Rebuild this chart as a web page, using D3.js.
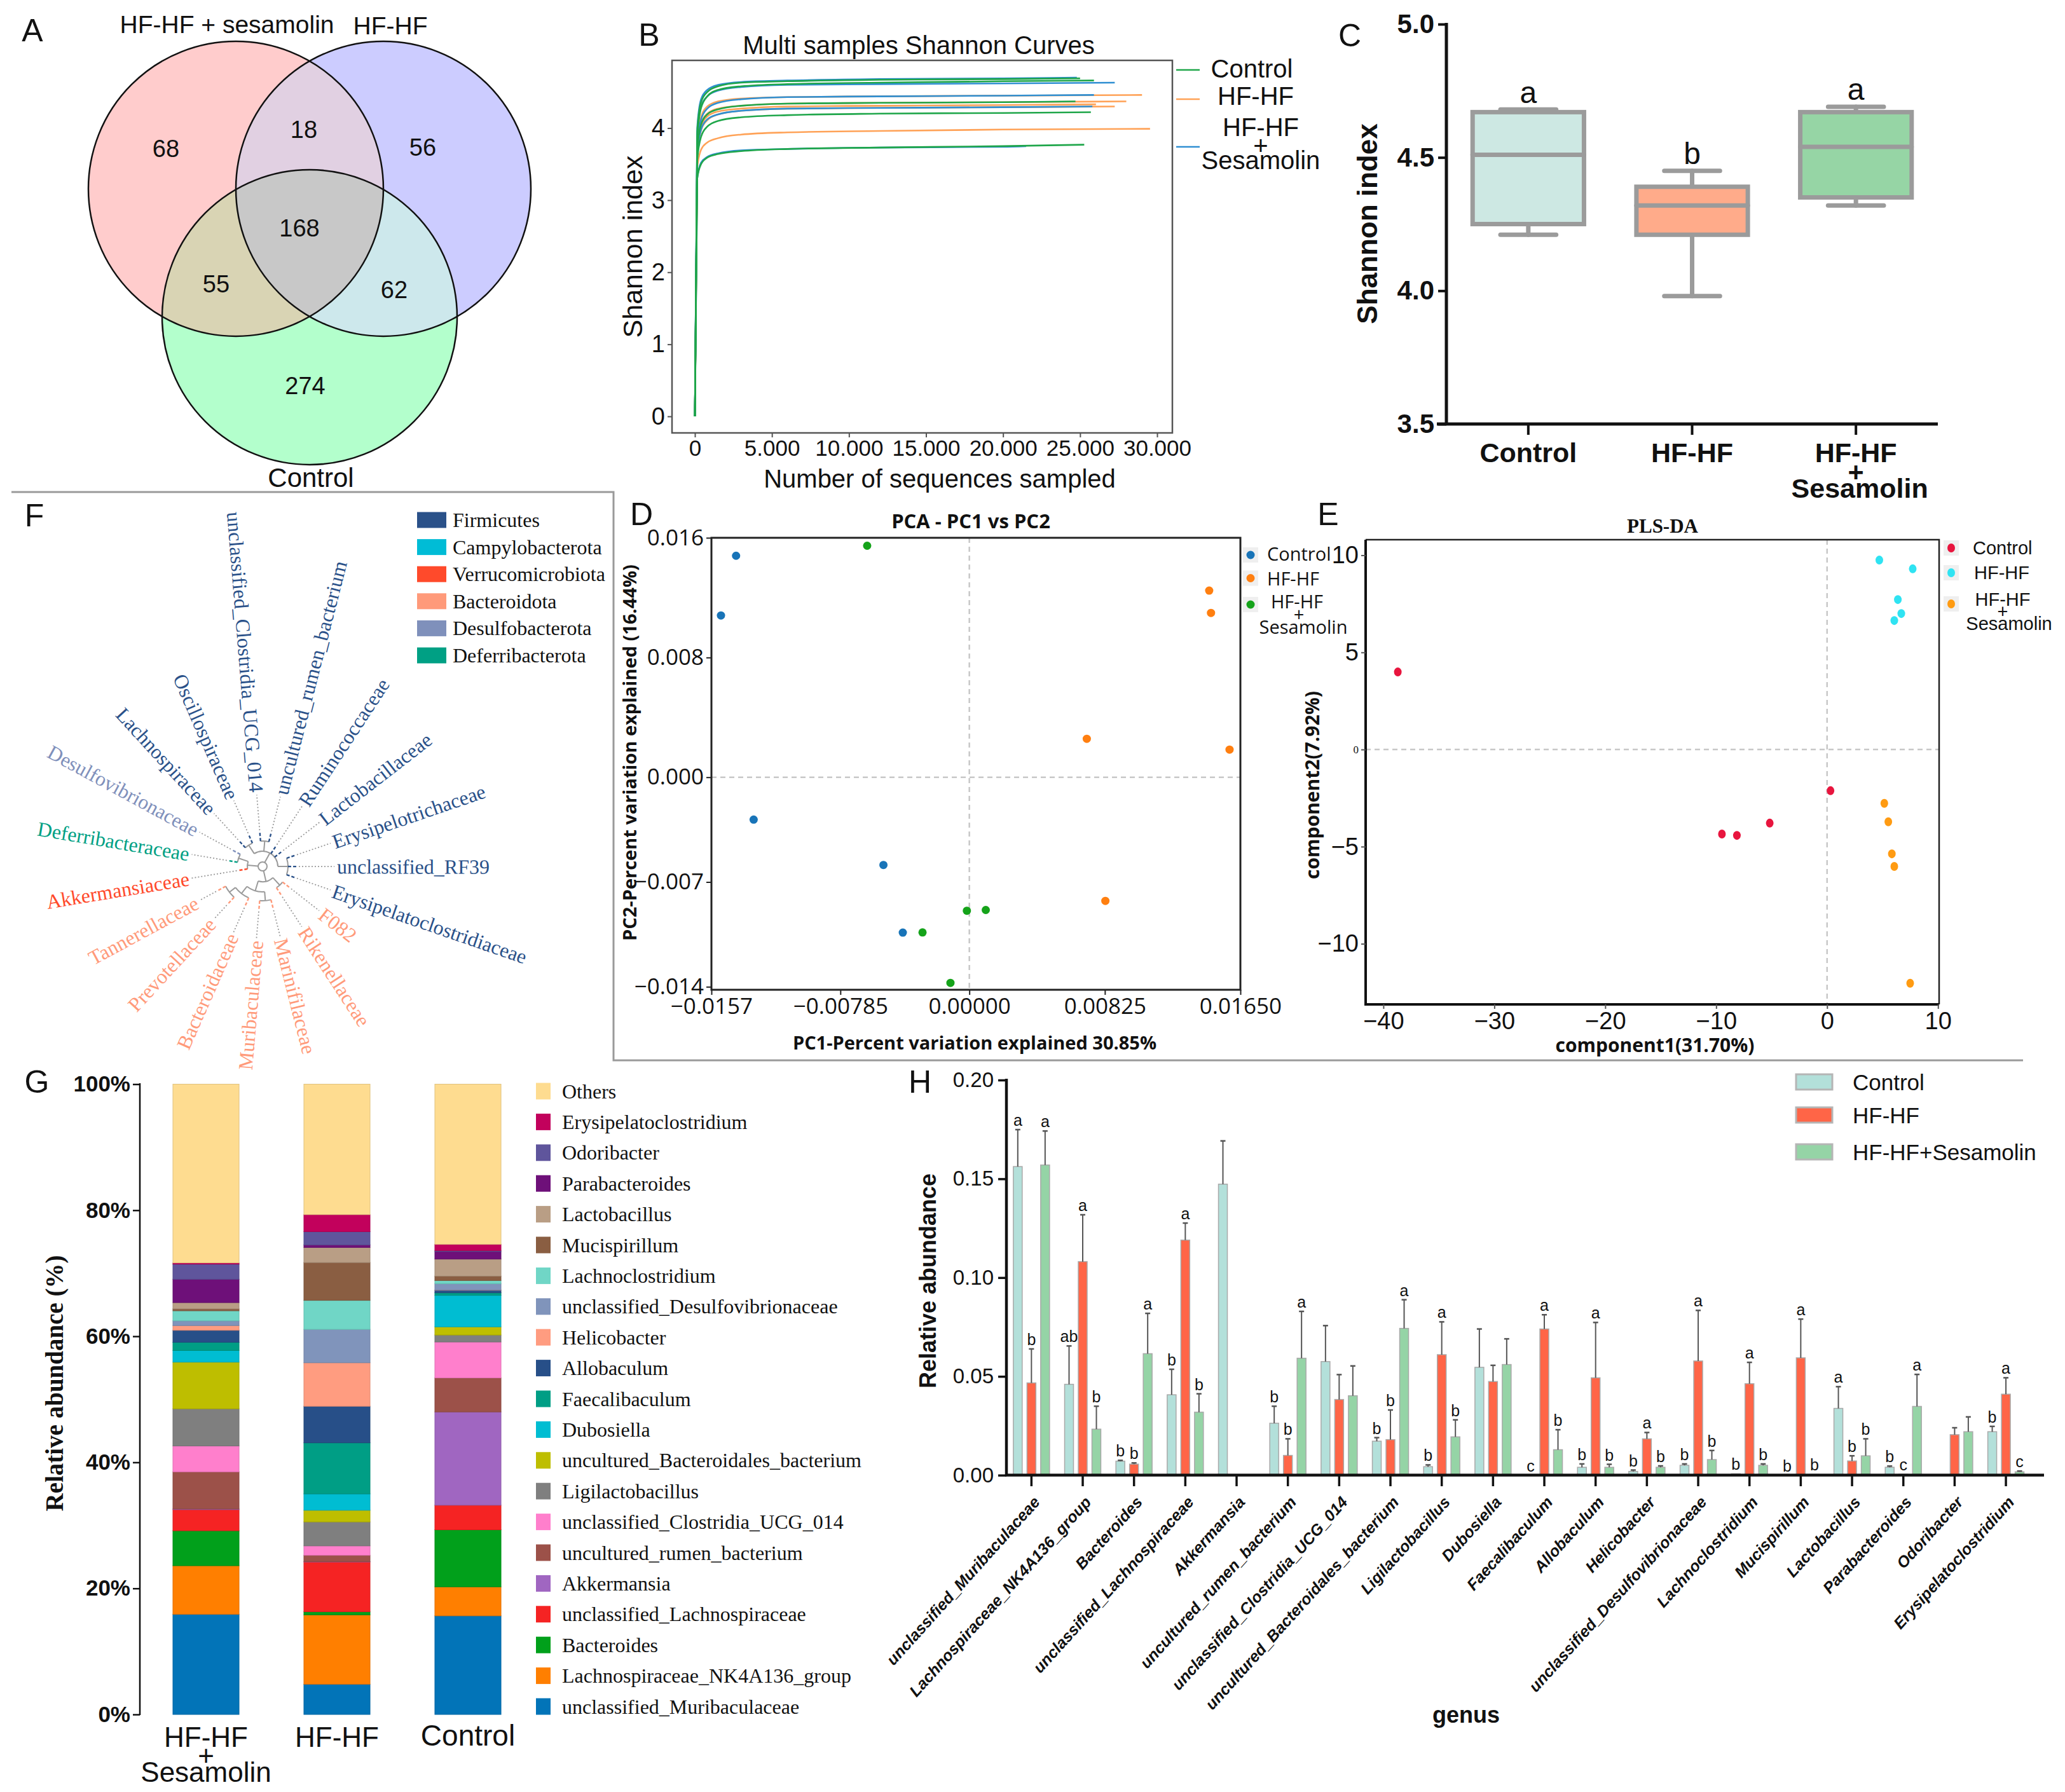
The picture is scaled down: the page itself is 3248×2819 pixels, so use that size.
<!DOCTYPE html>
<html>
<head>
<meta charset="utf-8">
<script src="https://cdn.jsdelivr.net/npm/d3@7/dist/d3.min.js"></script>
<style>
  body { margin: 0; background: #fff; }
</style>
</head>
<body>
<script>
// ---------------- data ----------------
// A - Venn
const vennNames = ["HF-HF + sesamolin", "HF-HF", "Control"];
// only A, only B, only C, A&B, A&C, B&C, all three
const vennCounts = [68, 56, 274, 18, 55, 62, 168];

// B - Shannon rarefaction curves
const shannonGroups = ["Control", "HF-HF", "HF-HF + Sesamolin"];
const shannonColors = ["#1fa64a", "#ffa257", "#2f8fd2"];
const seqDepths = [0, 150, 400, 800, 1500, 3000, 6000, 12000, 20000];
const shannonXTicks = [0, 5000, 10000, 15000, 20000, 25000, 30000];
const shannonYTicks = [0, 1, 2, 3, 4];
const curveGroup = [0, 0, 0, 0, 0, 1, 1, 1, 1, 1, 2, 2, 2, 2, 2];
const curveEnd = [25000, 25900, 24700, 25700, 25270, 29020, 28000, 26030, 27250, 29540, 24790, 27250, 25900, 25800, 21500];
const curveShannon = [
  [0, 3.95, 4.36, 4.50, 4.58, 4.63, 4.65, 4.67, 4.68, 4.69],
  [0, 3.85, 4.28, 4.44, 4.53, 4.58, 4.61, 4.63, 4.65, 4.66],
  [0, 3.70, 4.05, 4.19, 4.26, 4.31, 4.34, 4.35, 4.36, 4.37],
  [0, 3.55, 3.88, 4.02, 4.10, 4.15, 4.18, 4.20, 4.21, 4.22],
  [0, 3.30, 3.50, 3.59, 3.64, 3.68, 3.71, 3.73, 3.75, 3.77],
  [0, 3.75, 4.15, 4.30, 4.37, 4.41, 4.43, 4.44, 4.45, 4.46],
  [0, 3.70, 4.06, 4.20, 4.27, 4.31, 4.34, 4.35, 4.36, 4.37],
  [0, 3.68, 4.02, 4.16, 4.23, 4.27, 4.30, 4.31, 4.32, 4.33],
  [0, 3.62, 3.97, 4.11, 4.19, 4.24, 4.27, 4.28, 4.29, 4.30],
  [0, 3.45, 3.70, 3.80, 3.86, 3.91, 3.94, 3.96, 3.98, 3.99],
  [0, 4.00, 4.40, 4.53, 4.60, 4.64, 4.66, 4.68, 4.69, 4.70],
  [0, 3.90, 4.30, 4.44, 4.52, 4.57, 4.60, 4.61, 4.62, 4.63],
  [0, 3.75, 4.12, 4.27, 4.35, 4.40, 4.43, 4.44, 4.45, 4.46],
  [0, 3.65, 3.98, 4.12, 4.19, 4.24, 4.27, 4.28, 4.29, 4.30],
  [0, 3.30, 3.52, 3.60, 3.65, 3.69, 3.71, 3.73, 3.74, 3.75]
];
// which curves are painted first (underneath)
const curveDrawOrder = [14, 5, 6, 7, 8, 9, 10, 11, 12, 13, 0, 1, 2, 3, 4];

// C - Shannon boxplot
const boxGroups = ["Control", "HF-HF", "HF-HF + Sesamolin"];
const boxColors = ["#cde8e3", "#ffab8a", "#96d5a5"];
const boxMin = [4.21, 3.98, 4.32];
const boxQ1 = [4.25, 4.21, 4.35];
const boxMedian = [4.51, 4.32, 4.54];
const boxQ3 = [4.67, 4.39, 4.67];
const boxMax = [4.68, 4.45, 4.69];
const boxLetters = ["a", "b", "a"];
const boxYTicks = [3.5, 4.0, 4.5, 5.0];

// D - PCA
const pcaColors = ["#1874b8", "#ff7f10", "#15a31a"];
const pcaX = [
  [-0.01420, -0.01512, -0.01313, -0.00523, -0.00405],
  [0.01460, 0.01471, 0.00715, 0.01584, 0.00828],
  [-0.00622, -0.00015, 0.00100, -0.00285, -0.00115]
];
const pcaY = [
  [0.01480, 0.01081, -0.00283, -0.00586, -0.01038],
  [0.01247, 0.01098, 0.00257, 0.00185, -0.00826],
  [0.01547, -0.00892, -0.00887, -0.01037, -0.01374]
];
const pcaXTicks = [-0.0157, -0.00785, 0, 0.00825, 0.0165];
const pcaXTickLabels = ["\u22120.0157", "\u22120.00785", "0.00000", "0.00825", "0.01650"];
const pcaYTicks = [-0.014, -0.007, 0, 0.008, 0.016];

// E - PLS-DA
const plsColors = ["#e8153e", "#2fe3f2", "#ff9b12"];
const plsX = [
  [-38.7, 0.31, -5.17, -9.48, -8.13],
  [4.71, 7.72, 6.38, 6.69, 6.06],
  [5.16, 5.52, 5.84, 6.06, 7.49]
];
const plsY = [
  [3.99, -2.12, -3.79, -4.35, -4.42],
  [9.75, 9.30, 7.72, 7.00, 6.64],
  [-2.77, -3.72, -5.37, -6.02, -12.03]
];
const plsXTicks = [-40, -30, -20, -10, 0, 10];
const plsYTicks = [-10, -5, 0, 5, 10];

// F - family tree
const phyla = ["Firmicutes", "Campylobacterota", "Verrucomicrobiota", "Bacteroidota", "Desulfobacterota", "Deferribacterota"];
const phylaColors = ["#2a5189", "#00bcd6", "#ff4a2b", "#ff9a7a", "#7f90bb", "#00a084"];
const familyTree = [
  [["F082", "Rikenellaceae"], [["Marinifilaceae", "Muribaculaceae"], ["Bacteroidaceae", ["Prevotellaceae", "Tannerellaceae"]]]],
  ["Akkermansiaceae", ["Deferribacteraceae", "Desulfovibrionaceae"]],
  [["Lachnospiraceae", "Oscillospiraceae"], ["unclassified_Clostridia_UCG_014", "uncultured_rumen_bacterium"],
   "Ruminococcaceae", "Lactobacillaceae", ["Erysipelotrichaceae", "unclassified_RF39", "Erysipelatoclostridiaceae"]]
];
const familyPhylum = {
  "F082": 3, "Rikenellaceae": 3, "Marinifilaceae": 3, "Muribaculaceae": 3, "Bacteroidaceae": 3,
  "Prevotellaceae": 3, "Tannerellaceae": 3, "Akkermansiaceae": 2, "Deferribacteraceae": 5,
  "Desulfovibrionaceae": 4
};

// G - stacked genus composition (bottom -> top)
const barSamples = ["HF-HF + Sesamolin", "HF-HF", "Control"];
const generaStack = ["unclassified_Muribaculaceae", "Lachnospiraceae_NK4A136_group", "Bacteroides",
  "unclassified_Lachnospiraceae", "Akkermansia", "uncultured_rumen_bacterium", "unclassified_Clostridia_UCG_014",
  "Ligilactobacillus", "uncultured_Bacteroidales_bacterium", "Dubosiella", "Faecalibaculum", "Allobaculum",
  "Helicobacter", "unclassified_Desulfovibrionaceae", "Lachnoclostridium", "Mucispirillum", "Lactobacillus",
  "Parabacteroides", "Odoribacter", "Erysipelatoclostridium", "Others"];
const generaColors = ["#0274b8", "#ff7f00", "#01a01b", "#f52323", "#a066c1", "#9c5149", "#ff7fcc",
  "#7f7f7f", "#bebe00", "#00bdd2", "#009e85", "#274f88", "#ff9c80", "#8094bb", "#70d6c6", "#8a5e42",
  "#b99e85", "#6e1079", "#5f559c", "#c2015c", "#fedc90"];
const abundSesamolin = [15.9, 7.7, 5.55, 3.35, 0.1, 5.9, 4.1, 5.9, 7.4, 1.85, 1.3, 1.9, 0.75, 0.75, 1.6, 0.3, 1.0, 3.7, 2.4, 0.2, 28.35];
const abundHFHF = [4.8, 11.0, 0.5, 7.9, 0.05, 1.0, 1.5, 3.8, 1.85, 2.6, 8.1, 5.8, 6.9, 5.3, 4.6, 6.0, 2.4, 0.4, 2.1, 2.7, 20.7];
const abundControl = [15.65, 4.6, 9.05, 3.9, 14.8, 5.4, 5.7, 1.1, 1.3, 5.0, 0.4, 0.4, 0.05, 1.0, 0.5, 0.7, 2.7, 1.2, 0.15, 1.0, 25.4];
const pctTicks = [0, 20, 40, 60, 80, 100];

// H - genus bars
const hGenera = ["unclassified_Muribaculaceae", "Lachnospiraceae_NK4A136_group", "Bacteroides",
  "unclassified_Lachnospiraceae", "Akkermansia", "uncultured_rumen_bacterium", "unclassified_Clostridia_UCG_014",
  "uncultured_Bacteroidales_bacterium", "Ligilactobacillus", "Dubosiella", "Faecalibaculum", "Allobaculum",
  "Helicobacter", "unclassified_Desulfovibrionaceae", "Lachnoclostridium", "Mucispirillum", "Lactobacillus",
  "Parabacteroides", "Odoribacter", "Erysipelatoclostridium"];
const hGroups = ["Control", "HF-HF", "HF-HF+Sesamolin"];
const hColors = ["#b3e0da", "#ff6547", "#95d4a6"];
const hMean = [
  [0.1562, 0.0460, 0.0071, 0.0407, 0.1473, 0.0263, 0.0575, 0.0172, 0.0043, 0.0546, 0, 0.0040, 0.0019, 0.0050, 0.0007, 0, 0.0338, 0.0040, 0, 0.0220],
  [0.0467, 0.1081, 0.0056, 0.1190, 0, 0.0100, 0.0383, 0.0180, 0.0610, 0.0474, 0.0740, 0.0493, 0.0184, 0.0578, 0.0463, 0.0594, 0.0072, 0.0005, 0.0205, 0.0410],
  [0.1570, 0.0233, 0.0615, 0.0319, 0, 0.0592, 0.0402, 0.0743, 0.0194, 0.0560, 0.0129, 0.0040, 0.0040, 0.0079, 0.0050, 0.0004, 0.0098, 0.0348, 0.0220, 0.0017]
];
const hErrTop = [
  [0.1749, 0.0654, 0.0075, 0.0536, 0.1692, 0.0349, 0.0757, 0.0190, 0.0052, 0.0740, 0, 0.0057, 0.0026, 0.0057, 0.0009, 0, 0.0448, 0.0046, 0, 0.0247],
  [0.0639, 0.1318, 0.0062, 0.1276, 0, 0.0184, 0.0509, 0.0330, 0.0776, 0.0556, 0.0812, 0.0773, 0.0216, 0.0834, 0.0571, 0.0790, 0.0098, 0.0006, 0.0240, 0.0493],
  [0.1742, 0.0349, 0.0819, 0.0412, 0, 0.0829, 0.0553, 0.0888, 0.0280, 0.0690, 0.0230, 0.0055, 0.0047, 0.0125, 0.0057, 0.0005, 0.0184, 0.0510, 0.0295, 0.0021]
];
const hLetters = [
  ["a", "ab", "b", "b", "", "b", "", "b", "b", "", "c", "b", "b", "b", "b", "b", "a", "b", "", "b"],
  ["b", "a", "b", "a", "", "b", "", "b", "a", "", "a", "a", "a", "a", "a", "a", "b", "c", "", "a"],
  ["a", "b", "a", "b", "", "a", "", "a", "b", "", "b", "b", "b", "b", "b", "b", "b", "a", "", "c"]
];
const hYTicks = [0, 0.05, 0.10, 0.15, 0.20];

// ---------------- drawing ----------------
const SANS = "'Liberation Sans', Arial, sans-serif";
const NARROW = "'Liberation Sans Narrow', 'Arial Narrow', 'Liberation Sans', sans-serif";
const SERIF = "'Liberation Serif', 'Times New Roman', serif";
const OPEN = "'Open Sans', 'Liberation Sans', sans-serif";

const svg = d3.select("body").append("svg")
  .attr("width", 3248).attr("height", 2819);
svg.append("rect").attr("width", 3248).attr("height", 2819).attr("fill", "#fff");
const defs = svg.append("defs");

function label(g, x, y, txt, o = {}) {
  return g.append("text")
    .attr("x", x).attr("y", y)
    .attr("text-anchor", o.anchor || "middle")
    .attr("dominant-baseline", "central")
    .attr("font-family", o.family || SANS)
    .attr("font-size", o.size || 30)
    .attr("font-weight", o.weight || "normal")
    .attr("font-style", o.style || "normal")
    .attr("fill", o.fill || "#111")
    .attr("transform", o.rotate ? `rotate(${o.rotate},${x},${y})` : null)
    .text(txt);
}

function styleAxis(sel, size, o = {}) {
  if (!o.keepDomain) sel.select(".domain").remove();
  sel.selectAll(".tick line").attr("stroke", o.tickColor || "#333").attr("stroke-width", o.tickWidth || 2);
  sel.selectAll(".tick text")
    .attr("font-family", o.family || SANS)
    .attr("font-size", size)
    .attr("font-weight", o.weight || "normal")
    .attr("fill", "#111");
}

// separators
const sep = svg.append("g").attr("stroke", "#9a9a9a").attr("stroke-width", 3).attr("fill", "none");
sep.append("path").attr("d", "M18,774 H965 V1668 H3182");

// panel letters
[["A", 51, 48], ["B", 1021, 55], ["C", 2123, 56], ["F", 54, 811], ["D", 1009, 809],
 ["E", 2089, 809], ["G", 58, 1702], ["H", 1447, 1702]]
  .forEach(p => label(svg, p[1], p[2], p[0], { size: 50 }));

// ===== A: Venn =====
const gA = svg.append("g");
const vennCircles = [{ cx: 371, cy: 297 }, { cx: 603, cy: 297 }, { cx: 487, cy: 499 }];
const vennR = 232;
const vennFill = ["#ffcccc", "#ccccff", "#b3ffcc"];
vennCircles.forEach((c, i) => defs.append("clipPath").attr("id", "vc" + i)
  .append("circle").attr("cx", c.cx).attr("cy", c.cy).attr("r", vennR));
const vcirc = (g, c) => g.append("circle").attr("cx", c.cx).attr("cy", c.cy).attr("r", vennR);
vennCircles.forEach((c, i) => vcirc(gA, c).attr("fill", vennFill[i]));
vcirc(gA, vennCircles[1]).attr("clip-path", "url(#vc0)").attr("fill", "#e1d0e2");
vcirc(gA, vennCircles[2]).attr("clip-path", "url(#vc0)").attr("fill", "#d9d4b4");
vcirc(gA, vennCircles[2]).attr("clip-path", "url(#vc1)").attr("fill", "#cde8ec");
vcirc(gA.append("g").attr("clip-path", "url(#vc0)"), vennCircles[2]).attr("clip-path", "url(#vc1)").attr("fill", "#c8c8c8");
vennCircles.forEach(c => vcirc(gA, c).attr("fill", "none").attr("stroke", "#111").attr("stroke-width", 2.5));
const vennSpots = [[261, 234], [665, 232], [480, 607], [478, 204], [340, 447], [620, 456], [471, 359]];
vennCounts.forEach((n, i) => label(gA, vennSpots[i][0], vennSpots[i][1], n, { size: 38 }));
label(gA, 357, 38, vennNames[0], { size: 39 });
label(gA, 614, 40, vennNames[1], { size: 39 });
label(gA, 489, 751, vennNames[2], { size: 42 });

// ===== B: Shannon curves =====
const gB = svg.append("g");
const xB = d3.scaleLinear().domain([0, 30000]).range([1093, 1820]);
const yB = d3.scaleLinear().domain([0, 4]).range([655, 201.5]);
const lineB = d3.line().x(d => xB(d[0])).y(d => yB(d[1])).curve(d3.curveMonotoneX);
curveDrawOrder.forEach(i => {
  const vals = curveShannon[i];
  const pts = seqDepths.map((d, k) => [d, vals[k]]).concat([[curveEnd[i], vals[vals.length - 1]]]);
  gB.append("path").attr("d", lineB(pts)).attr("fill", "none")
    .attr("stroke", shannonColors[curveGroup[i]]).attr("stroke-width", 2.6);
});
gB.append("rect").attr("x", 1057).attr("y", 95).attr("width", 787).attr("height", 586)
  .attr("fill", "none").attr("stroke", "#555").attr("stroke-width", 2.5);
gB.append("g").attr("transform", "translate(0,681)")
  .call(d3.axisBottom(xB).tickValues(shannonXTicks).tickSize(7).tickPadding(4)
    .tickFormat(d => d3.format(",")(d).replace(/,/g, ".")))
  .call(styleAxis, 35, { family: NARROW, tickColor: "#555" });
gB.append("g").attr("transform", "translate(1057,0)")
  .call(d3.axisLeft(yB).tickValues(shannonYTicks).tickSize(7).tickPadding(4).tickFormat(d3.format("d")))
  .call(styleAxis, 38, { family: NARROW, tickColor: "#555" });
label(gB, 1445, 71, "Multi samples Shannon Curves", { size: 40 });
label(gB, 1478, 753, "Number of sequences sampled", { size: 40 });
label(gB, 995, 388, "Shannon index", { size: 43, rotate: -90 });
// legend
[[110, 1969, [[108, "Control"]]], [156, 1975, [[151, "HF-HF"]]],
 [231, 1983, [[200, "HF-HF"], [229, "+"], [252, "Sesamolin"]]]].forEach((r, i) => {
  gB.append("line").attr("x1", 1850).attr("x2", 1887).attr("y1", r[0]).attr("y2", r[0])
    .attr("stroke", shannonColors[i]).attr("stroke-width", 2.6);
  r[2].forEach(t => label(gB, r[1], t[0], t[1], { size: 40 }));
});

// ===== C: boxplot =====
const gC = svg.append("g");
const yC = d3.scaleLinear().domain([3.5, 5.0]).range([667, 38]);
const xC = d3.scaleBand().domain(boxGroups).range([2275, 3048]).paddingInner(0.32).paddingOuter(0.16);
boxGroups.forEach((g, i) => {
  const x0 = xC(g), w = xC.bandwidth(), cx = x0 + w / 2;
  const st = { stroke: "#9b9b9b", w: 7 };
  const ln = (x1, y1, x2, y2) => gC.append("line").attr("x1", x1).attr("y1", y1).attr("x2", x2).attr("y2", y2)
    .attr("stroke", st.stroke).attr("stroke-width", st.w).attr("stroke-linecap", "round");
  ln(cx, yC(boxQ3[i]), cx, yC(boxMax[i]));
  ln(cx, yC(boxQ1[i]), cx, yC(boxMin[i]));
  ln(cx - w / 4, yC(boxMax[i]), cx + w / 4, yC(boxMax[i]));
  ln(cx - w / 4, yC(boxMin[i]), cx + w / 4, yC(boxMin[i]));
  gC.append("rect").attr("x", x0).attr("y", yC(boxQ3[i])).attr("width", w)
    .attr("height", yC(boxQ1[i]) - yC(boxQ3[i])).attr("fill", boxColors[i])
    .attr("stroke", st.stroke).attr("stroke-width", st.w);
  ln(x0, yC(boxMedian[i]), x0 + w, yC(boxMedian[i]));
  label(gC, cx, yC(boxMax[i]) - 27, boxLetters[i], { size: 48, family: NARROW });
});
gC.append("g").attr("transform", "translate(2275,0)")
  .call(d3.axisLeft(yC).tickValues(boxYTicks).tickFormat(d3.format(".1f")).tickSize(13).tickPadding(6))
  .call(styleAxis, 42, { weight: "bold", tickColor: "#111", tickWidth: 4, family: NARROW });
gC.append("line").attr("x1", 2275).attr("x2", 2275).attr("y1", 36).attr("y2", 669)
  .attr("stroke", "#111").attr("stroke-width", 5);
gC.append("line").attr("x1", 2260).attr("x2", 3048).attr("y1", 667).attr("y2", 667)
  .attr("stroke", "#111").attr("stroke-width", 5);
boxGroups.forEach(g => {
  const cx = xC(g) + xC.bandwidth() / 2;
  gC.append("line").attr("x1", cx).attr("x2", cx).attr("y1", 667).attr("y2", 684)
    .attr("stroke", "#111").attr("stroke-width", 4);
});
label(gC, xC("Control") + xC.bandwidth() / 2, 712, "Control", { size: 43, weight: "bold" });
label(gC, xC("HF-HF") + xC.bandwidth() / 2, 712, "HF-HF", { size: 43, weight: "bold" });
const cxS = xC(boxGroups[2]) + xC.bandwidth() / 2;
label(gC, cxS, 712, "HF-HF", { size: 43, weight: "bold" });
label(gC, cxS, 742, "+", { size: 43, weight: "bold" });
label(gC, cxS + 6, 768, "Sesamolin", { size: 43, weight: "bold" });
label(gC, 2150, 352, "Shannon index", { size: 44, weight: "bold", rotate: -90 });

// ===== F: taxonomy tree =====
const gF = svg.append("g");
const treeC = [413, 1363];
const pol = (r, a) => [treeC[0] + r * Math.cos(a * Math.PI / 180), treeC[1] + r * Math.sin(a * Math.PI / 180)];
const rootF = d3.hierarchy(familyTree, d => Array.isArray(d) ? d : null);
const leavesF = rootF.leaves();
const angF = d3.scaleLinear().domain([0, leavesF.length]).range([38, 398]);
leavesF.forEach((l, i) => { l.ang = angF(i); });
rootF.eachAfter(n => { if (n.children) n.ang = (n.children[0].ang + n.children[n.children.length - 1].ang) / 2; });
const depthR = [7, 24, 40, 54, 66, 76];
rootF.each(n => { n.rad = n.children ? depthR[n.depth] : depthR[n.parent.depth] + 15; });
const phylumOf = name => familyPhylum[name] !== undefined ? familyPhylum[name] : 0;
// internal arcs
rootF.descendants().filter(n => n.children && n.depth > 0).forEach(n => {
  const a1 = n.children[0].ang, a2 = n.children[n.children.length - 1].ang;
  const p1 = pol(n.rad, a1), p2 = pol(n.rad, a2);
  gF.append("path").attr("d", `M${p1} A${n.rad},${n.rad} 0 ${a2 - a1 > 180 ? 1 : 0} 1 ${p2}`)
    .attr("fill", "none").attr("stroke", "#9a9a9a").attr("stroke-width", 2);
});
gF.append("circle").attr("cx", treeC[0]).attr("cy", treeC[1]).attr("r", depthR[0])
  .attr("fill", "none").attr("stroke", "#9a9a9a").attr("stroke-width", 2);
// radial branches
rootF.descendants().filter(n => n.parent).forEach(n => {
  const p1 = pol(n.parent.rad, n.ang), p2 = pol(n.rad, n.ang);
  const leaf = !n.children;
  gF.append("path").attr("d", `M${p1} L${p2}`).attr("fill", "none")
    .attr("stroke", leaf ? phylaColors[phylumOf(n.data)] : "#9a9a9a")
    .attr("stroke-width", leaf ? 2.4 : 2)
    .attr("stroke-dasharray", leaf ? "5,3" : null);
});
// leaders + labels
leavesF.forEach(l => {
  const p1 = pol(l.rad + 2, l.ang), p2 = pol(113, l.ang);
  gF.append("path").attr("d", `M${p1} L${p2}`).attr("stroke", "#999").attr("stroke-width", 1.8)
    .attr("stroke-dasharray", "2,3");
  const a = ((l.ang % 360) + 360) % 360;
  const p = pol(117, a);
  const right = Math.cos(a * Math.PI / 180) >= 0;
  gF.append("text").attr("x", p[0]).attr("y", p[1])
    .attr("text-anchor", right ? "start" : "end")
    .attr("dominant-baseline", "central")
    .attr("font-family", SERIF).attr("font-size", 32)
    .attr("fill", phylaColors[phylumOf(l.data)])
    .attr("transform", `rotate(${right ? a : a - 180},${p[0]},${p[1]})`)
    .text(l.data);
});
phyla.forEach((p, i) => {
  const y = 818 + i * 42.6;
  gF.append("rect").attr("x", 656).attr("y", y - 12.5).attr("width", 46).attr("height", 25).attr("fill", phylaColors[i]);
  label(gF, 712, y, p, { anchor: "start", family: SERIF, size: 32 });
});

// ===== D: PCA =====
const gD = svg.append("g");
const xD = d3.scaleLinear().domain([-0.0157, 0.0165]).range([1119, 1951]);
const yD = d3.scaleLinear().domain([-0.0142, 0.016]).range([1557, 846]);
gD.append("line").attr("x1", xD(0)).attr("x2", xD(0)).attr("y1", 846).attr("y2", 1557)
  .attr("stroke", "#c8c8c8").attr("stroke-width", 2.5).attr("stroke-dasharray", "8,6");
gD.append("line").attr("x1", 1119).attr("x2", 1951).attr("y1", yD(0)).attr("y2", yD(0))
  .attr("stroke", "#c8c8c8").attr("stroke-width", 2.5).attr("stroke-dasharray", "8,6");
pcaX.forEach((xs, g) => xs.forEach((v, i) => {
  gD.append("circle").attr("cx", xD(v)).attr("cy", yD(pcaY[g][i])).attr("r", 6.5).attr("fill", pcaColors[g]);
}));
gD.append("rect").attr("x", 1119).attr("y", 846).attr("width", 832).attr("height", 711)
  .attr("fill", "none").attr("stroke", "#222").attr("stroke-width", 3);
gD.append("g").attr("transform", "translate(0,1557)")
  .call(d3.axisBottom(xD).tickValues(pcaXTicks).tickSize(8).tickPadding(5).tickFormat((d, i) => pcaXTickLabels[i]))
  .call(styleAxis, 35, { family: OPEN, tickColor: "#222" });
gD.append("g").attr("transform", "translate(1119,0)")
  .call(d3.axisLeft(yD).tickValues(pcaYTicks).tickSize(8).tickPadding(4).tickFormat(d3.format(".3f")))
  .call(styleAxis, 35, { family: OPEN, tickColor: "#222" });
label(gD, 1527, 819, "PCA - PC1 vs PC2", { size: 31, weight: "bold", family: OPEN });
label(gD, 1533, 1639, "PC1-Percent variation explained 30.85%", { size: 29, weight: "bold", family: OPEN });
label(gD, 989, 1184, "PC2-Percent variation explained (16.44%)", { size: 29, weight: "bold", family: OPEN, rotate: -90 });
[873, 909.5, 951].forEach((y, i) => {
  gD.append("rect").attr("x", 1955).attr("y", y - 12).attr("width", 24).attr("height", 24).attr("fill", "#efefef");
  gD.append("circle").attr("cx", 1967).attr("cy", y).attr("r", 6.5).attr("fill", pcaColors[i]);
});
label(gD, 1993, 870, "Control", { anchor: "start", size: 29, family: OPEN });
label(gD, 1993, 909, "HF-HF", { anchor: "start", size: 29, family: OPEN });
label(gD, 2040, 945, "HF-HF", { size: 29, family: OPEN });
label(gD, 2043, 965, "+", { size: 29, family: OPEN });
label(gD, 2050, 985, "Sesamolin", { size: 29, family: OPEN });

// ===== E: PLS-DA =====
const gE = svg.append("g");
const xE = d3.scaleLinear().domain([-41.6, 10.1]).range([2148, 3050]);
const yE = d3.scaleLinear().domain([-13.12, 10.8]).range([1580, 849]);
gE.append("line").attr("x1", xE(0)).attr("x2", xE(0)).attr("y1", 849).attr("y2", 1580)
  .attr("stroke", "#c8c8c8").attr("stroke-width", 2.5).attr("stroke-dasharray", "8,6");
gE.append("line").attr("x1", 2148).attr("x2", 3050).attr("y1", yE(0)).attr("y2", yE(0))
  .attr("stroke", "#c8c8c8").attr("stroke-width", 2.5).attr("stroke-dasharray", "8,6");
plsX.forEach((xs, g) => xs.forEach((v, i) => {
  gE.append("ellipse").attr("cx", xE(v)).attr("cy", yE(plsY[g][i])).attr("rx", 6).attr("ry", 7).attr("fill", plsColors[g]);
}));
gE.append("path").attr("d", "M2148,849 H3050 V1580").attr("fill", "none").attr("stroke", "#222").attr("stroke-width", 2.5);
gE.append("path").attr("d", "M2148,849 V1580 H3050").attr("fill", "none").attr("stroke", "#111").attr("stroke-width", 4);
const axEy = gE.append("g").attr("transform", "translate(2148,0)")
  .call(d3.axisLeft(yE).tickValues(plsYTicks).tickSize(7).tickPadding(4))
  .call(styleAxis, 38, { family: NARROW, tickColor: "#555" });
axEy.selectAll(".tick text").filter(d => d === 0).attr("font-family", SERIF).attr("font-size", 17);
gE.append("g").attr("transform", "translate(0,1580)")
  .call(d3.axisBottom(xE).tickValues(plsXTicks).tickSize(7).tickPadding(5))
  .call(styleAxis, 38, { family: NARROW, tickColor: "#555" });
label(gE, 2615, 827, "PLS-DA", { size: 31, weight: "bold", family: SERIF });
label(gE, 2603, 1643, "component1(31.70%)", { size: 30, weight: "bold", family: OPEN });
label(gE, 2063, 1235, "component2(7.92%)", { size: 30, weight: "bold", family: OPEN, rotate: -90 });
[862, 901, 950].forEach((y, i) => {
  gE.append("rect").attr("x", 3057).attr("y", y - 12).attr("width", 24).attr("height", 24).attr("fill", "#efefef");
  gE.append("ellipse").attr("cx", 3069).attr("cy", y).attr("rx", 6).attr("ry", 7).attr("fill", plsColors[i]);
});
label(gE, 3103, 862, "Control", { anchor: "start", size: 29 });
label(gE, 3105, 901, "HF-HF", { anchor: "start", size: 29 });
label(gE, 3150, 943, "HF-HF", { size: 29 });
label(gE, 3150, 962, "+", { size: 29 });
label(gE, 3160, 981, "Sesamolin", { size: 29 });

// ===== G: stacked bars =====
const gG = svg.append("g");
const yG = d3.scaleLinear().domain([0, 100]).range([2697, 1705.5]);
const xG = d3.scaleBand().domain(barSamples).range([221, 839]).paddingInner(0.495).paddingOuter(0.2475);
const sampleVals = [abundSesamolin, abundHFHF, abundControl];
const rowsG = barSamples.map((s, i) => {
  const o = { sample: s };
  generaStack.forEach((g, j) => { o[g] = sampleVals[i][j]; });
  return o;
});
const stackG = d3.stack().keys(generaStack)(rowsG);
gG.selectAll("g.layer").data(stackG).join("g").attr("class", "layer")
  .attr("fill", (d, i) => generaColors[i])
  .attr("stroke", (d, i) => d3.color(generaColors[i]).darker(0.35))
  .attr("stroke-width", 1)
  .selectAll("rect").data(d => d).join("rect")
  .attr("x", d => xG(d.data.sample)).attr("width", xG.bandwidth())
  .attr("y", d => yG(d[1])).attr("height", d => Math.max(0, yG(d[0]) - yG(d[1])));
gG.append("g").attr("transform", "translate(220,0)")
  .call(d3.axisLeft(yG).tickValues(pctTicks).tickSize(11).tickPadding(4).tickFormat(d => d + "%"))
  .call(styleAxis, 35, { weight: "bold", tickColor: "#111", tickWidth: 2.5 });
gG.append("line").attr("x1", 220).attr("x2", 220).attr("y1", 1704).attr("y2", 2698)
  .attr("stroke", "#111").attr("stroke-width", 2.5);
label(gG, 85, 2176, "Relative abundance (%)", { size: 39, weight: "bold", family: SERIF, rotate: -90 });
const cxG = s => xG(s) + xG.bandwidth() / 2;
label(gG, cxG(barSamples[0]), 2732, "HF-HF", { size: 44 });
label(gG, cxG(barSamples[0]), 2761, "+", { size: 44 });
label(gG, cxG(barSamples[0]), 2787, "Sesamolin", { size: 44 });
label(gG, cxG(barSamples[1]), 2732, "HF-HF", { size: 44 });
label(gG, cxG(barSamples[2]), 2730, "Control", { size: 46 });
defs.append("clipPath").attr("id", "legG").append("rect").attr("x", 0).attr("y", 1650).attr("width", 1376).attr("height", 1100);
const legG = gG.append("g").attr("clip-path", "url(#legG)");
generaStack.slice().reverse().forEach((g, i) => {
  const y = 1716.5 + i * 48.4;
  legG.append("rect").attr("x", 843).attr("y", y - 13).attr("width", 23).attr("height", 26)
    .attr("fill", generaColors[generaStack.length - 1 - i]);
  label(legG, 884, y, g, { anchor: "start", family: SERIF, size: 32 });
});

// ===== H: genus bars =====
const gH = svg.append("g");
const yH = d3.scaleLinear().domain([0, 0.2]).range([2320.6, 1699]);
const xH = d3.scaleBand().domain(hGenera).range([1582, 3195.4]);
const xHg = d3.scaleBand().domain(hGroups).range([8.08, 72.58]).paddingInner(0.35).paddingOuter(0.175);
hGroups.forEach((grp, gi) => {
  hGenera.forEach((cat, ci) => {
    const x = xH(cat) + xHg(grp), w = xHg.bandwidth(), cx = x + w / 2;
    const m = hMean[gi][ci], e = hErrTop[gi][ci];
    if (m > 0) {
      gH.append("rect").attr("x", x).attr("y", yH(m)).attr("width", w).attr("height", yH(0) - yH(m))
        .attr("fill", hColors[gi]).attr("stroke", "#a9a9a9").attr("stroke-width", 1.5);
    }
    if (e > m + 0.0002) {
      gH.append("line").attr("x1", cx).attr("x2", cx).attr("y1", yH(m)).attr("y2", yH(e))
        .attr("stroke", "#555").attr("stroke-width", 2);
      gH.append("line").attr("x1", cx - 4).attr("x2", cx + 4).attr("y1", yH(e)).attr("y2", yH(e))
        .attr("stroke", "#555").attr("stroke-width", 2.5);
    }
    if (hLetters[gi][ci]) {
      gH.append("text").attr("x", cx).attr("y", yH(Math.max(e, m)) - 6)
        .attr("text-anchor", "middle").attr("font-family", NARROW).attr("font-size", 25)
        .attr("fill", "#111").text(hLetters[gi][ci]);
    }
  });
});
gH.append("g").attr("transform", "translate(1583,0)")
  .call(d3.axisLeft(yH).tickValues(hYTicks).tickSize(13).tickPadding(7).tickFormat(d3.format(".2f")))
  .call(styleAxis, 33, { family: NARROW, tickColor: "#111", tickWidth: 3.5 });
gH.append("line").attr("x1", 1583).attr("x2", 1583).attr("y1", 1697).attr("y2", 2322)
  .attr("stroke", "#111").attr("stroke-width", 4.5);
gH.append("line").attr("x1", 1581).attr("x2", 3215).attr("y1", 2320.6).attr("y2", 2320.6)
  .attr("stroke", "#111").attr("stroke-width", 4.5);
hGenera.forEach(cat => {
  const cx = xH(cat) + xH.bandwidth() / 2;
  gH.append("line").attr("x1", cx).attr("x2", cx).attr("y1", 2320).attr("y2", 2338)
    .attr("stroke", "#111").attr("stroke-width", 3.5);
  label(gH, cx + 8, 2358, cat, { anchor: "end", size: 25, weight: "bold", style: "italic", rotate: -48 });
});
label(gH, 2306, 2697, "genus", { size: 36, weight: "bold" });
label(gH, 1459, 2015, "Relative abundance", { size: 36, weight: "bold", rotate: -90 });
[1702, 1754, 1812].forEach((y, i) => {
  gH.append("rect").attr("x", 2825).attr("y", y - 12).attr("width", 57).attr("height", 24)
    .attr("fill", hColors[i]).attr("stroke", "#b5b5b5").attr("stroke-width", 3);
  label(gH, 2914, y, hGroups[i], { anchor: "start", size: 35 });
});
</script>
</body>
</html>
